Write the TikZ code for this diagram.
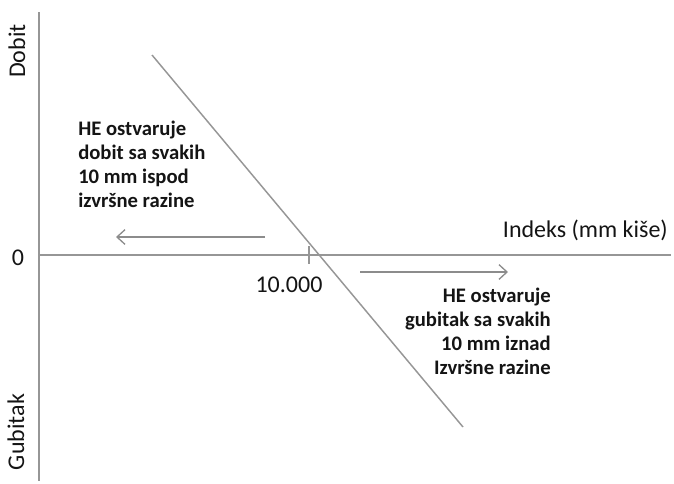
\documentclass[tikz,border=0pt]{standalone}
\usepackage{fontspec}
\setmainfont{Carlito}
\usetikzlibrary{arrows.meta,positioning}
\definecolor{axisgray}{RGB}{150,150,150}
\definecolor{arrowgray}{RGB}{140,140,140}
\definecolor{txt}{RGB}{20,20,20}
\tikzset{
  axis/.style={draw=axisgray,line width=1.1pt},
  shift arrow/.style={draw=arrowgray,line width=1.6pt,-{Straight Barb[length=6pt,width=11pt,line width=1pt]}},
  lbl/.style={text=txt,font=\fontsize{18}{20}\selectfont,inner sep=0pt},
  note/.style={text=txt,font=\bfseries\fontsize{15.5}{18}\selectfont,inner sep=0pt}
}

\begin{document}
\begin{tikzpicture}[x=0.75pt,y=-0.75pt]
  \useasboundingbox (0,0) rectangle (674,483);
  % axes
  \coordinate (ytop) at (39,12);
  \coordinate (ybot) at (39,481);
  \coordinate (xleft) at (39,255);
  \coordinate (xright) at (671,255);
  \draw[axis] (ytop)--(ybot);
  \draw[axis] (xleft)--(xright);
  \node[lbl,rotate=90] (dobit) at (17,51) {Dobit};
  \node[lbl,rotate=90] (gubitak) at (16,432) {Gubitak};
  \node[lbl] (nula) at (18,258) {0};
  \node[lbl,anchor=south east] (indeks) at (668,241) {Indeks (mm kiše)};
  % strike level
  \coordinate (tickup) at (309,246);
  \coordinate (tickdn) at (309,264);
  \draw[axis] (tickup)--(tickdn);
  \node[lbl] (razina) at (289,285) {10.000};
  % payoff line
  \coordinate (pstart) at (152,55);
  \coordinate (pend) at (463,427);
  \draw[axis] (pstart)--(pend);
  % arrows
  \coordinate (lfrom) at (265,237);
  \coordinate (lto) at (116,237);
  \coordinate (rfrom) at (360,272);
  \coordinate (rto) at (508,272);
  \draw[shift arrow] (lfrom)--(lto);
  \draw[shift arrow] (rfrom)--(rto);
  % notes
  \node[note,anchor=north west,align=left] (dobitnote) at (78,121)
    {HE ostvaruje\\dobit sa svakih\\10 mm ispod\\izvršne razine};
  \node[note,anchor=north east,align=right] (gubitnote) at (551,288)
    {HE ostvaruje\\gubitak sa svakih\\10 mm iznad\\Izvršne razine};
\end{tikzpicture}
\end{document}
